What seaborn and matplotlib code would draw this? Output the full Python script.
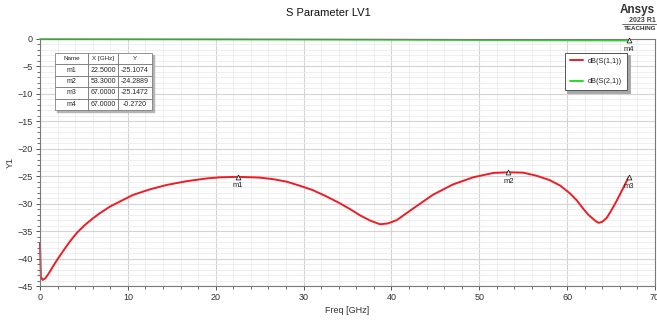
import matplotlib
matplotlib.use("Agg")
import matplotlib.pyplot as plt
from matplotlib.ticker import MultipleLocator
from matplotlib.patches import Rectangle
import pandas as pd
import seaborn as sns

# S11
freq_s11 = [0.0, 0.1, 0.3, 0.6, 1.0, 1.8, 2.6, 3.4, 4.2, 5.1, 6.0, 6.8, 8.0, 9.1,
            10.6, 12.5, 14.4, 16.7, 19.0, 20.5, 22.5, 25.0, 26.6, 28.1, 29.6, 31.0,
            32.5, 34.1, 35.3, 36.4, 37.6, 38.7, 39.6, 40.6, 42.5, 44.7, 47.0, 49.3,
            51.6, 53.3, 55.0, 56.5, 58.0, 59.2, 60.3, 61.1, 61.8, 62.4, 62.9, 63.3,
            63.6, 64.0, 64.5, 65.0, 65.6, 66.3, 67.0]
db_s11 = [-37.2, -43.3, -43.9, -43.6, -42.7, -40.6, -38.7, -36.9, -35.3, -33.9, -32.7,
          -31.75, -30.5, -29.6, -28.4, -27.4, -26.6, -25.9, -25.4, -25.2, -25.11, -25.25,
          -25.55, -26.0, -26.75, -27.5, -28.6, -29.9, -31.0, -32.1, -33.1, -33.75, -33.6,
          -33.0, -30.85, -28.4, -26.5, -25.2, -24.4, -24.29, -24.35, -24.9, -25.7, -26.7,
          -28.1, -29.4, -30.85, -32.0, -32.7, -33.25, -33.5, -33.3, -32.6, -31.3, -29.6,
          -27.4, -25.15]

# S21 stays right at the top edge
freq_s21 = [0, 10, 20, 30, 40, 47, 55, 60, 67]
db_s21 = [-0.02, -0.04, -0.06, -0.09, -0.13, -0.17, -0.21, -0.24, -0.272]

markers = ["m1", "m2", "m3", "m4"]
marker_x = [22.5, 53.3, 67.0, 67.0]
marker_y = [-25.1074, -24.2889, -25.1472, -0.2720]

df = pd.concat([
    pd.DataFrame({"freq": freq_s11, "dB": db_s11, "trace": "dB(S(1,1))"}),
    pd.DataFrame({"freq": freq_s21, "dB": db_s21, "trace": "dB(S(2,1))"}),
])

sns.set_style("white")
plt.rcParams["font.family"] = ["Liberation Sans", "DejaVu Sans"]

fig = plt.figure(figsize=(6.57, 3.2), dpi=100)
ax = fig.add_axes([40 / 657, 34 / 320, 615 / 657, 247 / 320])

ax = sns.lineplot(data=df, x="freq", y="dB", hue="trace", ax=ax,
                  palette={"dB(S(1,1))": "#ee1c25", "dB(S(2,1))": "#22dd22"},
                  linewidth=1.4, sort=False, clip_on=False)

ax.set_xlim(0, 70)
ax.set_ylim(-45, 0)
ax.xaxis.set_major_locator(MultipleLocator(10))
ax.xaxis.set_minor_locator(MultipleLocator(2))
ax.yaxis.set_major_locator(MultipleLocator(5))
ax.yaxis.set_minor_locator(MultipleLocator(1))
ax.grid(which="major", color="#d4d4d4", linewidth=0.8)
ax.grid(which="minor", color="#ececec", linewidth=0.6)
ax.set_axisbelow(True)
ax.tick_params(which="major", direction="out", length=3, width=0.7, color="#555555",
               labelsize=6.5, labelcolor="#333333", pad=2)
ax.tick_params(which="minor", direction="out", length=2, width=0.6, color="#555555")
ax.tick_params(axis="y", which="both", left=True)
ax.tick_params(axis="x", which="both", bottom=True)
for s in ax.spines.values():
    s.set_color("#7a7a7a")
    s.set_linewidth(0.8)

ax.set_xlabel("Freq [GHz]", fontsize=6.5, color="#333333", labelpad=3)
ax.set_ylabel("Y1", fontsize=6.5, color="#333333", labelpad=2)
fig.suptitle("S Parameter LV1", fontsize=8, x=0.5, y=0.975, color="#111111")

# markers
for name, mx, my in zip(markers, marker_x, marker_y):
    ax.plot(mx, my, marker="^", markersize=3.5, markerfacecolor="white",
            markeredgecolor="#222222", markeredgewidth=0.6, clip_on=False, zorder=5)
    ax.annotate(name, (mx, my), xytext=(0, -4), textcoords="offset points",
                ha="center", va="top", fontsize=5.5, color="#222222")

# legend box
leg = ax.legend(loc="upper left", bbox_to_anchor=(0.853, 0.945), fontsize=5.3,
                frameon=True, fancybox=False, handlelength=1.8, handletextpad=0.7,
                labelspacing=1.8, borderpad=0.7, borderaxespad=0,
                shadow={"color": "#a8a8a8", "alpha": 1})
leg.get_frame().set_edgecolor("#555555")
leg.get_frame().set_linewidth(0.7)

# marker table
cells = [[n, f"{x:.4f}", f"{y:.4f}"] for n, x, y in zip(markers, marker_x, marker_y)]
tbl_box = [15 / 615, (286 - 110) / 247, 97 / 615, 57 / 247]
ax.add_patch(Rectangle((tbl_box[0] + 0.003, tbl_box[1] - 0.008), tbl_box[2], tbl_box[3],
                       transform=ax.transAxes, color="#b4b4b4", zorder=4, clip_on=False))
tbl = ax.table(cellText=cells, colLabels=["Name", "X [GHz]", "Y"], bbox=tbl_box,
               cellLoc="center", colWidths=[33, 30, 34])
tbl.auto_set_font_size(False)
tbl.set_fontsize(5)
tbl.set_zorder(6)
for (r, c), cell in tbl.get_celld().items():
    cell.set_edgecolor("#6a6a6a")
    cell.set_linewidth(0.5)
    cell.set_facecolor("white")
    cell.PAD = 0.05
    if r == 0:
        cell.get_text().set_fontsize(4.5)

# Ansys badge in the corner
fig.text(620 / 657, 1 - 10 / 320, "Ansys", fontsize=8.5, fontweight="bold",
         color="#333333", ha="left", va="center")
fig.text(629 / 657, 1 - 20 / 320, "2023 R1", fontsize=5, fontweight="bold",
         color="#444444", ha="left", va="center")
fig.add_artist(plt.Line2D([622 / 657, 1.0], [1 - 24 / 320] * 2,
                          color="#555555", linewidth=0.6))
fig.text(624 / 657, 1 - 29 / 320, "TEACHING", fontsize=4.5, fontweight="bold",
         color="#333333", ha="left", va="center")

fig.savefig("out.png", dpi=100)
